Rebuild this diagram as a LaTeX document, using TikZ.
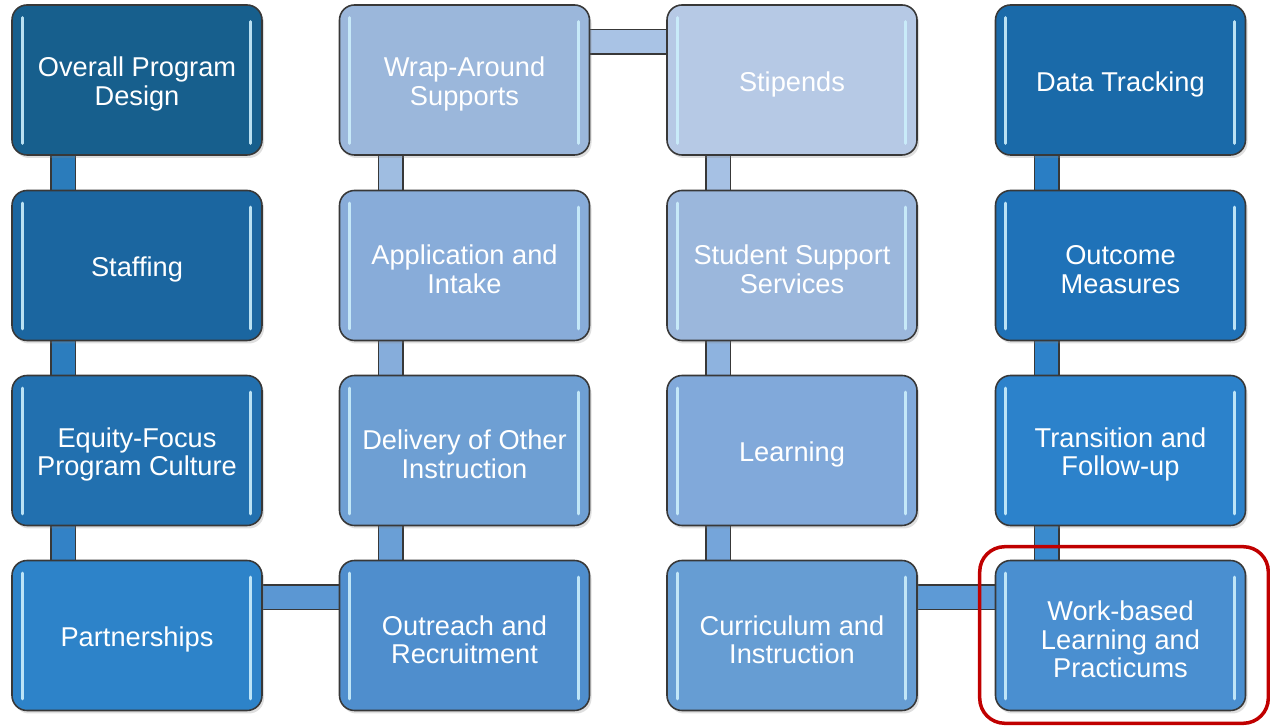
\documentclass[tikz,border=0pt]{standalone}
\usepackage{fontspec}
\setmainfont{Liberation Sans}
\usetikzlibrary{backgrounds,shadows}
\definecolor{deepA}{HTML}{175F8D}
\definecolor{deepB}{HTML}{1B66A0}
\definecolor{deepC}{HTML}{2270AF}
\definecolor{deepD}{HTML}{2D83C9}
\definecolor{paleA}{HTML}{9BB7DB}
\definecolor{paleB}{HTML}{88ACD9}
\definecolor{paleC}{HTML}{6E9FD3}
\definecolor{paleD}{HTML}{4F8ECD}
\definecolor{mistA}{HTML}{B6C9E5}
\definecolor{mistB}{HTML}{9BB7DC}
\definecolor{mistC}{HTML}{81A9DA}
\definecolor{mistD}{HTML}{669DD3}
\definecolor{trackA}{HTML}{1A6AA9}
\definecolor{trackB}{HTML}{1F72B8}
\definecolor{trackC}{HTML}{2C82CB}
\definecolor{trackD}{HTML}{4A8FD0}
\definecolor{focusred}{HTML}{C00000}
\tikzset{
  stagebox/.style={draw=black!78,line width=0.9pt,rounded corners=0.3cm,
    minimum width=5cm,minimum height=3cm,
    drop shadow={opacity=0.25,shadow xshift=0.04cm,shadow yshift=-0.06cm}},
  stagetext/.style={text=white,align=center,inner sep=0pt,
    font=\fontsize{15.5}{16.2}\selectfont},
  stagebar/.style={draw=black!78,line width=0.85pt,double=#1,double distance=0.46cm},
  glint/.style={white!80!cyan,line width=0.06cm,line cap=round,opacity=0.9},
  focusframe/.style={draw=focusred,line width=0.07cm,rounded corners=0.5cm}
}

\begin{document}
\begin{tikzpicture}
  \useasboundingbox (0,0) rectangle (25.4,14.52);
  % four columns of stages, top to bottom
  \foreach \id/\cx/\cy/\tone/\txt in {
    os/2.74/12.92/deepA/{Overall Program\\Design},
    st/2.74/9.21/deepB/{Staffing},
    eq/2.74/5.51/deepC/{Equity-Focus\\Program Culture},
    pa/2.74/1.81/deepD/{Partnerships},
    wa/9.29/12.92/paleA/{Wrap-Around\\Supports},
    ai/9.29/9.21/paleB/{Application and\\Intake},
    de/9.29/5.51/paleC/{Delivery of Other\\Instruction},
    or/9.29/1.81/paleD/{Outreach and\\Recruitment},
    sp/15.84/12.92/mistA/{Stipends},
    ss/15.84/9.21/mistB/{Student Support\\Services},
    le/15.84/5.51/mistC/{Learning},
    ci/15.84/1.81/mistD/{Curriculum and\\Instruction},
    dt/22.41/12.92/trackA/{Data Tracking},
    om/22.41/9.21/trackB/{Outcome\\Measures},
    tf/22.41/5.51/trackC/{Transition and\\Follow-up},
    wb/22.41/1.81/trackD/{Work-based\\Learning and\\Practicums}} {
    \node[stagebox,fill=\tone] (\id) at (\cx,\cy) {};
    \node[stagetext] (\id-t) at ([yshift=-0.08cm]\id.center) {\txt};
    \draw[glint] ([shift={(0.22cm,-0.27cm)}]\id.north west)
      -- ([shift={(0.22cm,0.25cm)}]\id.south west);
    \draw[glint] ([shift={(-0.24cm,-0.35cm)}]\id.north east)
      -- ([shift={(-0.24cm,0.25cm)}]\id.south east);
  }
  % connecting bars sit behind the boxes
  \begin{pgfonlayer}{background}
    \foreach \a/\b/\tone in {os/st/2B7CBB, st/eq/2C7DBE, eq/pa/3382C6,
      wa/ai/9FBDE1, ai/de/86ADDB, de/or/6A9FD6,
      sp/ss/A6C1E4, ss/le/8EB3DF, le/ci/75A5DA,
      dt/om/2A7EC4, om/tf/2E82C9, tf/wb/3A8BCE} {
      \definecolor{barfill}{HTML}{\tone}
      \draw[stagebar=barfill] ([xshift=1.04cm]\a.south west)
        -- ([xshift=1.04cm]\b.north west);
    }
    \foreach \a/\b/\tone in {wa/sp/A9C3E5, pa/or/5B97D3, ci/wb/5D9AD6} {
      \definecolor{barfill}{HTML}{\tone}
      \draw[stagebar=barfill] ([yshift=-0.75cm]\a.north east)
        -- ([yshift=-0.75cm]\b.north west);
    }
  \end{pgfonlayer}
  \draw[focusframe] ([shift={(-0.3cm,0.26cm)}]wb.north west)
    rectangle ([shift={(0.44cm,-0.24cm)}]wb.south east);
\end{tikzpicture}
\end{document}
